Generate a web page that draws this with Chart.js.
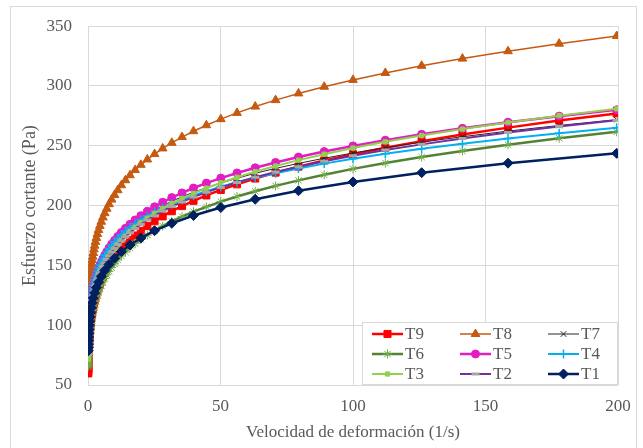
<!DOCTYPE html>
<html>
<head>
<meta charset="utf-8">
<script src="https://cdn.jsdelivr.net/npm/chart.js@4.4.1/dist/chart.umd.min.js"></script>
<style>
  html, body { margin: 0; padding: 0; background: #ffffff; }
  canvas { display: block; }
</style>
</head>
<body>
<canvas id="chart" width="643" height="448"></canvas>
<script>
// Velocidad de deformación (1/s), 20 puntos por década
const shearRate = [
    0.1, 0.1122, 0.1259, 0.1413, 0.1585, 0.1778, 0.1995, 0.2239, 0.2512, 0.2818,
    0.3162, 0.3548, 0.3981, 0.4467, 0.5012, 0.5623, 0.631, 0.7079, 0.7943, 0.8913,
    1, 1.122, 1.259, 1.413, 1.585, 1.778, 1.995, 2.239, 2.512, 2.818,
    3.162, 3.548, 3.981, 4.467, 5.012, 5.623, 6.31, 7.079, 7.943, 8.913,
    10, 11.22, 12.59, 14.13, 15.85, 17.78, 19.95, 22.39, 25.12, 28.18,
    31.62, 35.48, 39.81, 44.67, 50.12, 56.23, 63.1, 70.79, 79.43, 89.13,
    100, 112.2, 125.9, 141.3, 158.5, 177.8, 199.5,
];
// T1 se midió con 10 puntos por década
const shearRateT1 = [
    0.1, 0.1259, 0.1585, 0.1995, 0.2512, 0.3162, 0.3981, 0.5012, 0.631, 0.7943,
    1, 1.259, 1.585, 1.995, 2.512, 3.162, 3.981, 5.012, 6.31, 7.943,
    10, 12.59, 15.85, 19.95, 25.12, 31.62, 39.81, 50.12, 63.1, 79.43,
    100, 125.9, 158.5, 199.5,
];

// Esfuerzo cortante (Pa)
const t9 = [
    59.7, 61.2, 62.9, 64.6, 66.3, 68.1, 69.9, 71.8, 73.7, 75.7,
    77.7, 79.8, 82.0, 84.2, 86.4, 88.7, 91.1, 93.6, 96.1, 98.7,
    101.3, 103.5, 105.8, 108.2, 110.6, 113.0, 115.5, 118.1, 120.7, 123.3,
    126.1, 128.9, 131.7, 134.6, 137.6, 140.6, 143.8, 146.9, 150.2, 153.5,
    156.9, 160.4, 163.9, 167.5, 171.3, 175.0, 178.9, 182.9, 186.9, 191.0,
    195.3, 199.6, 204.0, 208.5, 213.1, 217.8, 222.6, 227.6, 232.6, 237.7,
    243.0, 248.4, 253.9, 259.5, 265.2, 271.1, 277.1,
];
const t8 = [
    98.0, 99.9, 101.8, 103.7, 105.7, 107.7, 109.8, 111.9, 114.0, 116.2,
    118.4, 120.7, 123.0, 125.3, 127.7, 130.2, 132.7, 135.2, 137.8, 140.4,
    143.1, 145.8, 148.6, 151.5, 154.4, 157.3, 160.3, 163.4, 166.5, 169.7,
    172.9, 176.2, 179.6, 183.0, 186.5, 190.1, 193.7, 197.4, 201.2, 205.0,
    208.9, 212.9, 217.0, 221.2, 225.4, 229.7, 234.1, 238.6, 243.1, 247.8,
    252.5, 257.3, 262.2, 267.2, 272.3, 277.5, 282.8, 288.2, 293.8, 299.4,
    305.1, 310.9, 316.9, 322.9, 329.1, 335.4, 341.8,
];
const t7 = [
    82.5, 84.0, 85.5, 87.1, 88.7, 90.3, 91.9, 93.6, 95.3, 97.1,
    98.8, 100.6, 102.5, 104.3, 106.2, 108.2, 110.1, 112.2, 114.2, 116.3,
    118.4, 120.6, 122.8, 125.0, 127.3, 129.6, 132.0, 134.4, 136.8, 139.3,
    141.9, 144.5, 147.1, 149.8, 152.5, 155.3, 158.1, 161.0, 163.9, 166.9,
    170.0, 173.1, 176.2, 179.4, 182.7, 186.0, 189.4, 192.9, 196.4, 200.0,
    203.6, 207.4, 211.1, 215.0, 218.9, 222.9, 227.0, 231.1, 235.3, 239.6,
    244.0, 248.4, 253.0, 257.6, 262.3, 267.0, 271.9,
];
const t6 = [
    65.2, 66.5, 68.0, 69.4, 70.9, 72.4, 73.9, 75.5, 77.1, 78.8,
    80.4, 82.2, 83.9, 85.7, 87.5, 89.4, 91.3, 93.2, 95.2, 97.2,
    99.3, 101.4, 103.6, 105.8, 108.0, 110.3, 112.7, 115.1, 117.5, 120.0,
    122.6, 125.2, 127.9, 130.6, 133.4, 136.2, 139.1, 142.1, 145.1, 148.2,
    151.3, 154.6, 157.9, 161.2, 164.6, 168.2, 171.7, 175.4, 179.1, 182.9,
    186.8, 190.8, 194.9, 199.0, 203.3, 207.6, 212.0, 216.5, 221.1, 225.8,
    230.7, 235.6, 240.6, 245.7, 250.9, 256.3, 261.7,
];
const t5 = [
    80.0, 81.5, 83.0, 84.6, 86.3, 87.9, 89.6, 91.3, 93.1, 94.9,
    96.7, 98.5, 100.4, 102.3, 104.3, 106.3, 108.3, 110.4, 112.5, 114.7,
    116.9, 119.1, 121.4, 123.8, 126.1, 128.5, 131.0, 133.5, 136.1, 138.7,
    141.4, 144.1, 146.8, 149.7, 152.5, 155.5, 158.4, 161.5, 164.6, 167.7,
    170.9, 174.2, 177.6, 181.0, 184.4, 188.0, 191.6, 195.3, 199.0, 202.8,
    206.7, 210.6, 214.7, 218.8, 223.0, 227.3, 231.6, 236.1, 240.6, 245.2,
    249.9, 254.7, 259.6, 264.6, 269.7, 274.8, 280.1,
];
const t4 = [
    85.4, 86.9, 88.4, 89.9, 91.5, 93.1, 94.7, 96.3, 98.0, 99.7,
    101.4, 103.2, 105.0, 106.8, 108.6, 110.5, 112.4, 114.4, 116.3, 118.3,
    120.4, 122.5, 124.6, 126.8, 129.0, 131.2, 133.5, 135.8, 138.1, 140.5,
    142.9, 145.4, 147.9, 150.5, 153.1, 155.7, 158.4, 161.2, 164.0, 166.8,
    169.7, 172.6, 175.6, 178.7, 181.7, 184.9, 188.1, 191.3, 194.6, 198.0,
    201.4, 204.9, 208.5, 212.1, 215.8, 219.5, 223.3, 227.1, 231.1, 235.1,
    239.1, 243.3, 247.5, 251.8, 256.1, 260.5, 265.1,
];
const t3 = [
    71.6, 73.1, 74.6, 76.1, 77.7, 79.4, 81.0, 82.7, 84.5, 86.2,
    88.0, 89.9, 91.8, 93.7, 95.6, 97.6, 99.7, 101.8, 103.9, 106.1,
    108.3, 110.6, 112.9, 115.3, 117.7, 120.1, 122.6, 125.2, 127.8, 130.5,
    133.2, 136.0, 138.9, 141.8, 144.8, 147.8, 150.9, 154.0, 157.3, 160.6,
    163.9, 167.4, 170.9, 174.4, 178.1, 181.8, 185.6, 189.5, 193.5, 197.5,
    201.7, 205.9, 210.2, 214.6, 219.1, 223.7, 228.4, 233.1, 238.0, 243.0,
    248.1, 253.3, 258.6, 264.0, 269.5, 275.2, 280.9,
];
const t2 = [
    75.7, 77.2, 78.7, 80.3, 81.8, 83.4, 85.1, 86.7, 88.4, 90.1,
    91.9, 93.7, 95.5, 97.4, 99.3, 101.2, 103.2, 105.2, 107.3, 109.4,
    111.5, 113.7, 115.9, 118.2, 120.5, 122.8, 125.2, 127.7, 130.2, 132.7,
    135.3, 137.9, 140.6, 143.4, 146.2, 149.0, 151.9, 154.9, 157.9, 161.0,
    164.2, 167.4, 170.6, 174.0, 177.4, 180.8, 184.4, 188.0, 191.6, 195.4,
    199.2, 203.1, 207.1, 211.1, 215.2, 219.4, 223.7, 228.1, 232.5, 237.1,
    241.7, 246.4, 251.2, 256.1, 261.1, 266.2, 271.4,
];
const t1 = [
    78.6, 81.3, 84.1, 87.1, 90.1, 93.3, 96.5, 99.9, 103.4, 107.0,
    110.7, 114.6, 118.6, 122.7, 127.0, 131.4, 136.0, 140.8, 145.7, 150.8,
    156.0, 161.5, 167.1, 172.9, 179.0, 185.2, 191.7, 198.4, 205.3, 212.4,
    219.8, 227.5, 235.5, 243.7,
];

const xTicks = [0, 50, 100, 150, 200];
const yTicks = [50, 100, 150, 200, 250, 300, 350];

const INK = '#595959';
const GRID = '#d9d9d9';
const SERIF = "'Liberation Serif', 'Times New Roman', serif";

Chart.defaults.font.family = SERIF;
Chart.defaults.font.size = 17;
Chart.defaults.color = INK;

function toPoints(xs, ys) {
    return ys.map((y, i) => ({ x: xs[i], y }));
}

function series(label, xs, ys, style) {
    return Object.assign({
        label,
        data: toPoints(xs, ys),
        fill: false,
        tension: 0,
        pointHoverRadius: 0,
    }, style);
}

const datasets = [
    series('T9', shearRate, t9, {
        borderColor: '#FF0000', borderWidth: 2.5, pointStyle: 'rect', pointRadius: 5,
        pointBackgroundColor: '#FF0000', pointBorderColor: '#FF0000', pointBorderWidth: 1, order: 9,
    }),
    series('T8', shearRate, t8, {
        borderColor: '#C55A11', borderWidth: 1.5, pointStyle: 'triangle', pointRadius: 5,
        pointBackgroundColor: '#C55A11', pointBorderColor: '#C55A11', pointBorderWidth: 1, order: 8,
    }),
    series('T7', shearRate, t7, {
        borderColor: '#262626', borderWidth: 1, pointStyle: 'crossRot', pointRadius: 4,
        pointBackgroundColor: '#262626', pointBorderColor: '#262626', pointBorderWidth: 1, order: 7,
    }),
    series('T6', shearRate, t6, {
        borderColor: '#548235', borderWidth: 2.5, pointStyle: 'star', pointRadius: 4.5,
        pointBackgroundColor: '#70AD47', pointBorderColor: '#70AD47', pointBorderWidth: 1, order: 6,
    }),
    series('T5', shearRate, t5, {
        borderColor: '#E31CC3', borderWidth: 2.5, pointStyle: 'circle', pointRadius: 4,
        pointBackgroundColor: '#E31CC3', pointBorderColor: '#E31CC3', pointBorderWidth: 1, order: 5,
    }),
    series('T4', shearRate, t4, {
        borderColor: '#00B0F0', borderWidth: 2, pointStyle: 'cross', pointRadius: 4.5,
        pointBackgroundColor: '#00B0F0', pointBorderColor: '#00B0F0', pointBorderWidth: 1.5, order: 4,
    }),
    series('T3', shearRate, t3, {
        borderColor: '#92D050', borderWidth: 2, pointStyle: 'rect', pointRadius: 3,
        pointBackgroundColor: '#92D050', pointBorderColor: '#92D050', pointBorderWidth: 1, order: 3,
    }),
    series('T2', shearRate, t2, {
        borderColor: '#7030A0', borderWidth: 2, pointStyle: 'line', pointRadius: 4,
        pointBackgroundColor: '#A6A6A6', pointBorderColor: '#A6A6A6', pointBorderWidth: 3, order: 2,
    }),
    series('T1', shearRateT1, t1, {
        borderColor: '#002060', borderWidth: 2.5, pointStyle: 'rectRot', pointRadius: 5,
        pointBackgroundColor: '#002060', pointBorderColor: '#002060', pointBorderWidth: 1, order: 1,
    }),
];

// marco gris claro del gráfico
const framePlugin = {
    id: 'frame',
    beforeDraw(chart) {
        const { ctx, width, height } = chart;
        ctx.save();
        ctx.fillStyle = '#ffffff';
        ctx.fillRect(0, 0, width, height);
        ctx.strokeStyle = GRID;
        ctx.lineWidth = 1;
        ctx.strokeRect(10.5, 6.5, 626, height);
        ctx.restore();
    },
};

// leyenda de 3 columnas dentro del área de trazado
const boxLegendPlugin = {
    id: 'boxLegend',
    afterDatasetsDraw(chart) {
        const { ctx, chartArea } = chart;
        const w = 256, h = 63;
        const x0 = chartArea.right - w;
        const y0 = chartArea.bottom - h;
        ctx.save();
        ctx.fillStyle = '#ffffff';
        ctx.fillRect(x0, y0, w, h);
        ctx.strokeStyle = GRID;
        ctx.lineWidth = 1;
        ctx.strokeRect(x0 + 0.5, y0 + 0.5, w - 1, h - 1);

        chart.data.datasets.forEach((ds, i) => {
            const lx = x0 + 10 + (i % 3) * 88;
            const ly = y0 + 12 + Math.floor(i / 3) * 20;
            const len = 31;
            ctx.strokeStyle = ds.borderColor;
            ctx.lineWidth = ds.borderWidth;
            ctx.beginPath();
            ctx.moveTo(lx, ly);
            ctx.lineTo(lx + len, ly);
            ctx.stroke();

            ctx.fillStyle = ds.pointBackgroundColor;
            ctx.strokeStyle = ds.pointBorderColor;
            ctx.lineWidth = ds.pointBorderWidth;
            Chart.helpers.drawPoint(ctx, {
                pointStyle: ds.pointStyle,
                rotation: 0,
                radius: ds.pointRadius,
                borderWidth: ds.pointBorderWidth,
            }, lx + len / 2, ly);

            ctx.fillStyle = INK;
            ctx.font = '17px ' + SERIF;
            ctx.textAlign = 'left';
            ctx.textBaseline = 'middle';
            ctx.fillText(ds.label, lx + len + 2, ly + 1);
        });
        ctx.restore();
    },
};

new Chart(document.getElementById('chart'), {
    type: 'line',
    data: { datasets },
    options: {
        responsive: false,
        animation: false,
        devicePixelRatio: 1,
        layout: { padding: { left: 0, right: 25, top: 22, bottom: 0 } },
        plugins: { legend: { display: false }, tooltip: { enabled: false } },
        scales: {
            x: {
                type: 'linear',
                min: 0,
                max: 200,
                afterBuildTicks: (scale) => { scale.ticks = xTicks.map((v) => ({ value: v })); },
                afterFit: (scale) => { scale.height = 63; },
                ticks: { color: INK, font: { family: SERIF, size: 17 }, padding: 11 },
                grid: { color: GRID, lineWidth: 1, drawTicks: false },
                border: { display: false },
                title: {
                    display: true,
                    text: 'Velocidad de deformación (1/s)',
                    color: INK,
                    font: { family: SERIF, size: 17 },
                    padding: { top: 0, bottom: 5 },
                },
            },
            y: {
                type: 'linear',
                min: 50,
                max: 350,
                afterBuildTicks: (scale) => { scale.ticks = yTicks.map((v) => ({ value: v })); },
                afterFit: (scale) => { scale.width = 88; },
                ticks: { color: INK, font: { family: SERIF, size: 17 }, padding: 16 },
                grid: { color: GRID, lineWidth: 1, drawTicks: false },
                border: { display: false },
                title: {
                    display: true,
                    text: 'Esfuerzo cortante (Pa)',
                    color: INK,
                    font: { family: SERIF, size: 18 },
                    padding: { top: 19, bottom: 0 },
                },
            },
        },
    },
    plugins: [framePlugin, boxLegendPlugin],
});
</script>
</body>
</html>
